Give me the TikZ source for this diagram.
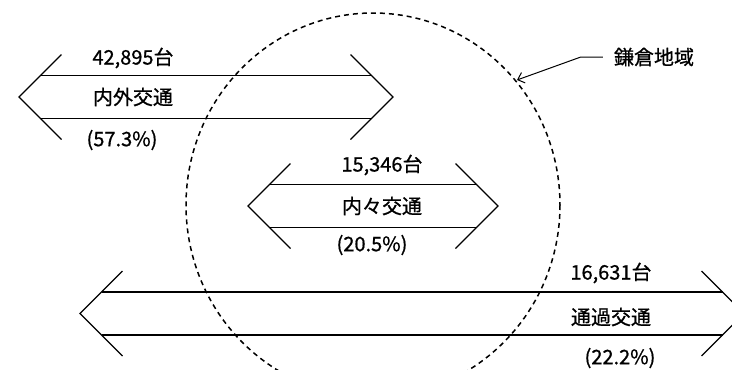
\documentclass[tikz,border=0pt]{standalone}
\usepackage{fontspec}
\newfontfamily\jpfont[FakeBold=0.8]{Noto Sans CJK JP}
\usetikzlibrary{arrows.meta}

\begin{document}
\begin{tikzpicture}[
    x=1pt, y=-1pt,
    >={Straight Barb[length=6pt,width=11pt]},
    lbl/.style={
        font=\jpfont\fontsize{20}{23}\selectfont,
        inner sep=1pt
    },
    flowline/.style={line width=1.3pt, draw=black},
    region/.style={dash pattern=on 5pt off 4pt, line width=1.5pt}
]
    \clip (0,0) rectangle (732,370);

    % Kamakura area
    \draw[region] (373,205) ellipse [x radius=187, y radius=192];

    % two-way flows: left tip / right tip / centre line
    \foreach \xl/\xr/\yc in {19/393/97, 248/498/206, 80/744/313.5}{
        \draw[flowline] (\xl+42.5,\yc-42.5) -- (\xl,\yc) -- (\xl+42.5,\yc+42.5);
        \draw[flowline] (\xr-42.5,\yc-42.5) -- (\xr,\yc) -- (\xr-42.5,\yc+42.5);
        \draw[flowline] (\xl+21.5,\yc-21.5) -- (\xr-21.5,\yc-21.5);
        \draw[flowline] (\xl+21.5,\yc+21.5) -- (\xr-21.5,\yc+21.5);
    }

    \node[lbl] (cnt-io)  at (133,58)  {42,895台};
    \node[lbl] (name-io) at (133,97)  {内外交通};
    \node[lbl] (pct-io)  at (122,140) {(57.3\%)};

    \node[lbl] (cnt-ii)  at (382,165) {15,346台};
    \node[lbl] (name-ii) at (382,206) {内々交通};
    \node[lbl] (pct-ii)  at (372,245) {(20.5\%)};

    \node[lbl] (cnt-th)  at (611,273) {16,631台};
    \node[lbl] (name-th) at (611,317) {通過交通};
    \node[lbl] (pct-th)  at (620,358) {(22.2\%)};

    \node[lbl] (area) at (654,57) {鎌倉地域};
    \coordinate (area-edge) at (517,80);
    \draw[line width=1pt, ->] ([xshift=-10pt]area.west) -- ++(-22,0) -- (area-edge);

\end{tikzpicture}
\end{document}
